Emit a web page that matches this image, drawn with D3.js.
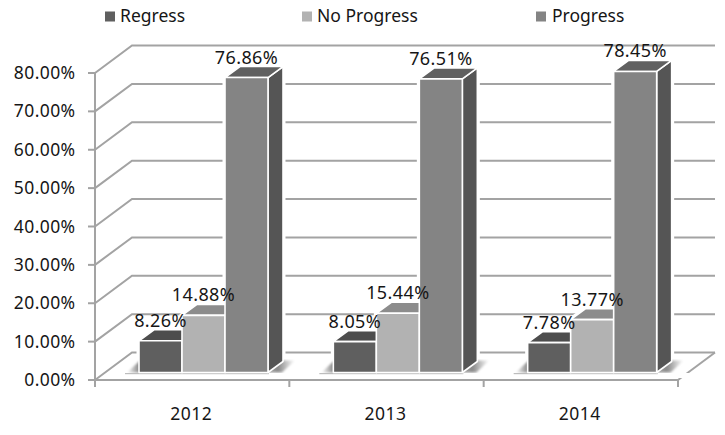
<!DOCTYPE html>
<html><head><meta charset="utf-8">
<script src="https://cdn.jsdelivr.net/npm/d3@7"></script>
<style>html,body{margin:0;background:#fff}svg{display:block}text{font-family:"Noto Sans",sans-serif;fill:#161616}</style>
</head><body><div id="chart"></div>
<script>
const years = ["2012","2013","2014"];
const seriesNames = ["Regress","No Progress","Progress"];
const regress = [8.26,8.05,7.78];
const noProgress = [14.88,15.44,13.77];
const progress = [76.86,76.51,78.45];
const yTicks = [0,10,20,30,40,50,60,70,80];
const allSeries = [regress,noProgress,progress];
const front = ["#5f5f5f","#b2b2b2","#848484"];
const topC = ["#4d4d4d","#8c8c8c","#606060"];
const sideC = ["#474747","#7a7a7a","#555555"];
const legendX = [105,302,536];

const W=725,H=435, dx=37, dy=-27.5, bdx=15, bdy=-11;
const svg=d3.select("#chart").append("svg").attr("width",W).attr("height",H);
const defs=svg.append("defs");
defs.append("filter").attr("id","soft").append("feGaussianBlur").attr("stdDeviation",1);
const grad=defs.append("linearGradient").attr("id","shade");
[[0,"#ffffff"],[0.07,"#8a8a8a"],[0.1,"#9a9a9a"],[0.86,"#9a9a9a"],[0.9,"#8a8a8a"],[1,"#ffffff"]]
  .forEach(([o,c])=>grad.append("stop").attr("offset",o).attr("stop-color",c));

const y=d3.scaleLinear().domain([0,80]).range([380,73]);
const x=d3.scaleBand().domain(years).range([95,678]);
const inner=d3.scaleBand().domain(d3.range(3)).range([44,173]);
const barBase=372.5, hScale=d3.scaleLinear().domain([0,80]).range([barBase,barBase-307]);

const grid="#a3a3a3";
const g=svg.append("g").attr("fill","none").attr("stroke",grid).attr("stroke-width",2);
yTicks.forEach(t=>{
  g.append("path").attr("d",d3.line()([[x.range()[0],y(t)],[x.range()[0]+dx,y(t)+dy],[x.range()[1]+dx,y(t)+dy]]));
});
g.append("path").attr("d",d3.line()([[x.range()[1],y(0)],[x.range()[1]+dx,y(0)+dy]]));
g.append("path").attr("d",d3.line()([[x.range()[0],y(80)],[x.range()[0],y(0)],[x.range()[1],y(0)]]));
yTicks.forEach(t=>g.append("path").attr("d",d3.line()([[88,y(t)],[95,y(t)]])));
[...years.map(d=>x(d)),x.range()[1]].forEach(p=>g.append("path").attr("d",d3.line()([[p,y(0)],[p,y(0)+7]])));

svg.append("g").selectAll("text").data(yTicks).join("text")
  .attr("x",75.5).attr("y",d=>y(d)+6).attr("text-anchor","end").attr("font-size",17.5)
  .attr("letter-spacing",0.4).text(d=>d.toFixed(2)+"%");
svg.append("g").selectAll("text").data(years).join("text")
  .attr("x",d=>x(d)+x.bandwidth()/2-1).attr("y",420).attr("text-anchor","middle").attr("font-size",17.5)
  .attr("letter-spacing",0.5).text(d=>d);

years.forEach((yr,i)=>{
  const x0=x(yr), gg=svg.append("g");
  const L=x0+inner(0), R=x0+inner(2)+inner.bandwidth();
  // white halo that interrupts the gridlines
  seriesNames.forEach((s,k)=>{
    const a=x0+inner(k), b=a+inner.bandwidth(), t=hScale(allSeries[k][i]);
    gg.append("polygon").attr("fill","#fff").attr("stroke","#fff").attr("stroke-width",5)
      .attr("points",[[a,t],[a+bdx,t+bdy],[b+bdx,t+bdy],[b+bdx,barBase+bdy],[b,barBase],[a,barBase]].join(" "));
  });
  gg.append("polygon").attr("filter","url(#soft)").attr("fill","url(#shade)")
    .attr("points",[[L-12,barBase],[L+1,barBase-12],[R+27,barBase-12],[R+14,barBase]].join(" "));
  gg.append("rect").attr("x",L-16).attr("y",barBase+0.5).attr("width",R-L+50).attr("height",5).attr("fill","#fff");
  gg.append("rect").attr("x",L-14).attr("y",barBase+0.5).attr("width",R-L+15).attr("height",1.2).attr("fill","#bdbdbd");
  seriesNames.forEach((s,k)=>{
    const v=allSeries[k][i], a=x0+inner(k), b=a+inner.bandwidth(), t=hScale(v);
    const poly=(pts,c)=>gg.append("polygon").attr("points",pts.join(" ")).attr("fill",c)
      .attr("stroke","#fff").attr("stroke-width",1.6).attr("stroke-linejoin","round");
    poly([[b,t],[b+bdx,t+bdy],[b+bdx,barBase+bdy],[b,barBase]],sideC[k]);
    poly([[a,t],[a+bdx,t+bdy],[b+bdx,t+bdy],[b,t]],topC[k]);
    poly([[a,t],[b,t],[b,barBase],[a,barBase]],front[k]);
  });
});
years.forEach((yr,i)=>{
  seriesNames.forEach((s,k)=>{
    const v=allSeries[k][i];
    svg.append("text").attr("x",x(yr)+inner(k)+inner.bandwidth()/2).attr("y",hScale(v)-14)
      .attr("text-anchor","middle").attr("font-size",18).attr("letter-spacing",0.4).text(v.toFixed(2)+"%");
  });
});
const lg=svg.append("g").selectAll("g").data(seriesNames).join("g");
lg.append("rect").attr("x",(d,i)=>legendX[i]).attr("y",11.5).attr("width",10).attr("height",10).attr("fill",(d,i)=>front[i]);
lg.append("text").attr("x",(d,i)=>legendX[i]+(i===2?16:15)).attr("y",22).attr("font-size",17.5).text(d=>d);
</script></body></html>
